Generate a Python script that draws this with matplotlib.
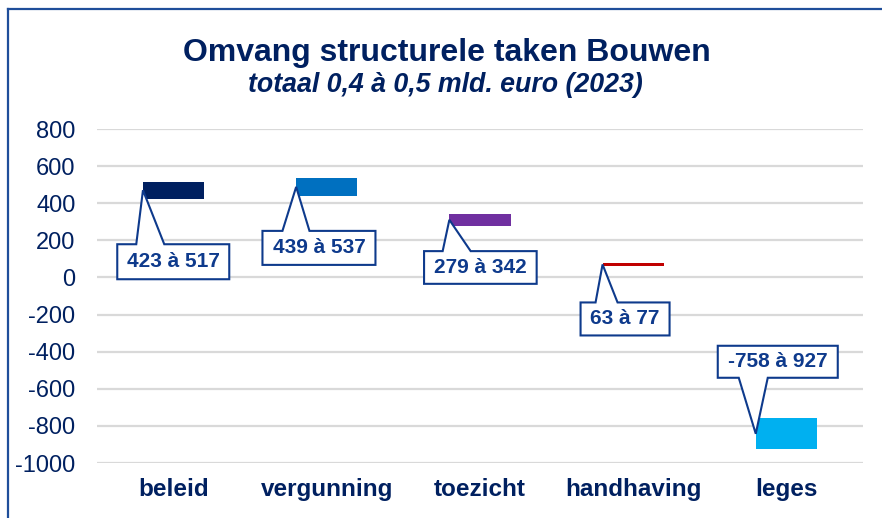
import matplotlib
matplotlib.use("Agg")
import matplotlib.pyplot as plt
from matplotlib.patches import Polygon
from matplotlib.lines import Line2D
from matplotlib.transforms import IdentityTransform

plt.rcParams['font.family'] = ['Liberation Sans', 'DejaVu Sans']

categories = ['beleid', 'vergunning', 'toezicht', 'handhaving', 'leges']
low_values = [423, 439, 279, 63, -927]
high_values = [517, 537, 342, 77, -758]
label_texts = ['423 à 517', '439 à 537', '279 à 342', '63 à 77', '-758 à 927']
bar_colors = ['#002060', '#0070C0', '#7030A0', '#C00000', '#00B0F0']
y_ticks = [800, 600, 400, 200, 0, -200, -400, -600, -800, -1000]

# callout layout (pixel offsets from pointer tip: left, right, top, bottom, baseL, baseR; y downward)
callout_layout = [
    (-25.7, 86.3, 54, 89, -6.7, 21.3),
    (-33.7, 79.3, 44, 78, -13.7, 13.3),
    (-25.3, 87.3, 31.3, 64, -6.7, 21.3),
    (-22, 67, 38, 71, -7, 15),
    (-38, 82, -88, -56, -17, 12),
]

W, H = 882, 518
fig = plt.figure(figsize=(W / 100, H / 100), dpi=100)
ax = fig.add_axes([97 / W, (H - 463) / H, (863 - 97) / W, (463 - 129) / H])

navy = '#002060'
lbl = '#0E3A8C'
bw = 0.4
xs = list(range(len(categories)))
ax.bar(xs, [h - l for h, l in zip(high_values, low_values)], bottom=low_values,
       width=bw, color=bar_colors, zorder=3)

ax.set_xlim(-0.5, len(categories) - 0.5)
ax.set_ylim(-1000, 800)
ax.set_yticks(y_ticks)
ax.set_yticklabels([str(v) for v in y_ticks])
ax.set_xticks(xs)
ax.set_xticklabels(categories, fontweight='bold')
ax.tick_params(axis='y', length=0, pad=15.5, labelsize=17, labelcolor=navy)
ax.tick_params(axis='x', length=0, pad=10.5, labelsize=17.5, labelcolor=navy)
for s in ax.spines.values():
    s.set_visible(False)
ax.grid(axis='y', color='#D9D9D9', linewidth=1.6, zorder=0)
ax.set_axisbelow(True)

# callouts
for i, (lo, hi, txt, lay) in enumerate(zip(low_values, high_values, label_texts, callout_layout)):
    tx, ty = ax.transData.transform((i - bw / 2, (lo + hi) / 2))
    l, r, t, b, bl, br = lay
    top = ty - t
    bot = ty - b
    left = tx + l
    right = tx + r
    if t > 0:
        pts = [(left, top), (tx + bl, top), (tx, ty), (tx + br, top), (right, top),
               (right, bot), (left, bot)]
    else:
        pts = [(left, top), (right, top), (right, bot), (tx + br, bot), (tx, ty),
               (tx + bl, bot), (left, bot)]
    poly = Polygon(pts, closed=True, facecolor='white', edgecolor=lbl,
                   linewidth=1.5, transform=IdentityTransform(), zorder=5)
    fig.add_artist(poly)
    fig.text((left + right) / 2 / W, (top + bot) / 2 / H, txt, ha='center', va='center',
             fontsize=15, fontweight='bold', color=lbl, zorder=6)

# titles
fig.text(447 / W, (H - 60.7) / H, 'Omvang structurele taken Bouwen', ha='center',
         va='baseline', fontsize=23, fontweight='bold', color=navy)
fig.text(445 / W, (H - 91.5) / H, 'totaal 0,4 à 0,5 mld. euro (2023)', ha='center',
         va='baseline', fontsize=19.3, fontweight='bold', fontstyle='italic', color=navy)

# frame
frame_c = '#1F4E9A'
fig.add_artist(Line2D([8 / W, 1.0], [(H - 9) / H, (H - 9) / H], color=frame_c, linewidth=1.6))
fig.add_artist(Line2D([8 / W, 8 / W], [0, (H - 9) / H], color=frame_c, linewidth=1.6))

fig.savefig('out.png', dpi=100, facecolor='white')
